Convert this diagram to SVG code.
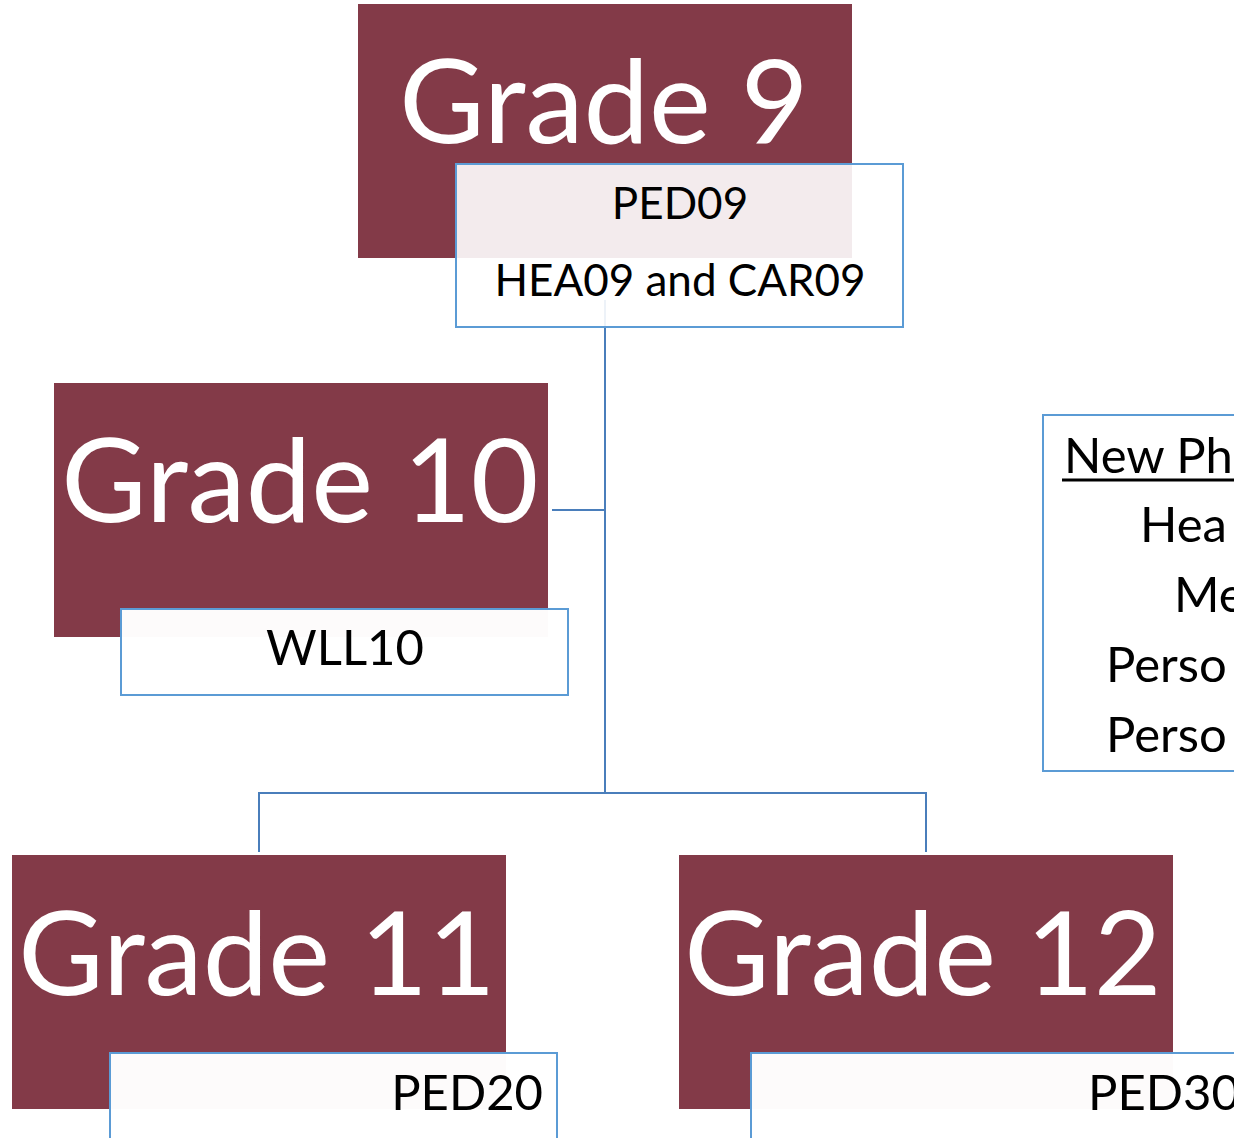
<svg xmlns="http://www.w3.org/2000/svg" width="1234" height="1138" viewBox="0 0 1234 1138">
<style>
.grade{fill:#833A48}
.title{font-family:Lato,"Liberation Sans",sans-serif;font-size:117px;fill:#FFFFFF;text-anchor:middle}
.box{fill:#FFFFFF;stroke:#5B9BD5;stroke-width:2}
.lbl{font-family:Lato,"Liberation Sans",sans-serif;fill:#000000}
.conn{fill:none;stroke:#4A7EBB;stroke-width:2}
</style>
<rect width="1234" height="1138" fill="#FFFFFF"/>
<g id="connectors">
<path class="conn" d="M605,300 V793"/>
<path class="conn" d="M552,510 H605"/>
<path class="conn" d="M259,852 V793 H926 V852"/>
</g>
<g id="grade9">
<rect class="grade" x="358" y="4" width="494" height="254"/>
<text class="title" x="604" y="143">Grade 9</text>
<rect class="box" x="456" y="164" width="447" height="163" fill-opacity="0.9"/>
<text class="lbl" x="680" y="219" font-size="44" text-anchor="middle">PED09</text>
<text class="lbl" x="680" y="296" font-size="44" text-anchor="middle">HEA09 and CAR09</text>
</g>
<g id="grade10">
<rect class="grade" x="54" y="383" width="494" height="254"/>
<text class="title" x="300" y="522">Grade 10</text>
<rect class="box" x="121" y="609" width="447" height="86" fill-opacity="0.98"/>
<text class="lbl" x="345" y="665" font-size="49" text-anchor="middle">WLL10</text>
</g>
<g id="legend">
<rect class="box" x="1043" y="415" width="220" height="356"/>
<text class="lbl" x="1064" y="473" font-size="49">New Ph</text>
<line x1="1062" y1="480" x2="1234" y2="480" stroke="#000000" stroke-width="3"/>
<text class="lbl" x="1140" y="542" font-size="49">Hea</text>
<text class="lbl" x="1174" y="612" font-size="49">Me</text>
<text class="lbl" x="1106" y="682" font-size="49">Perso</text>
<text class="lbl" x="1106" y="752" font-size="49">Perso</text>
</g>
<g id="grade11">
<rect class="grade" x="12" y="855" width="494" height="254"/>
<text class="title" x="257" y="995">Grade 11</text>
<rect class="box" x="110" y="1053" width="447" height="120" fill-opacity="0.98"/>
<text class="lbl" x="543" y="1110" font-size="49" text-anchor="end">PED20</text>
</g>
<g id="grade12">
<rect class="grade" x="679" y="855" width="494" height="254"/>
<text class="title" x="923" y="995">Grade 12</text>
<rect class="box" x="751" y="1053" width="560" height="120" fill-opacity="0.98"/>
<text class="lbl" x="1088" y="1110" font-size="49">PED30</text>
</g>
</svg>
